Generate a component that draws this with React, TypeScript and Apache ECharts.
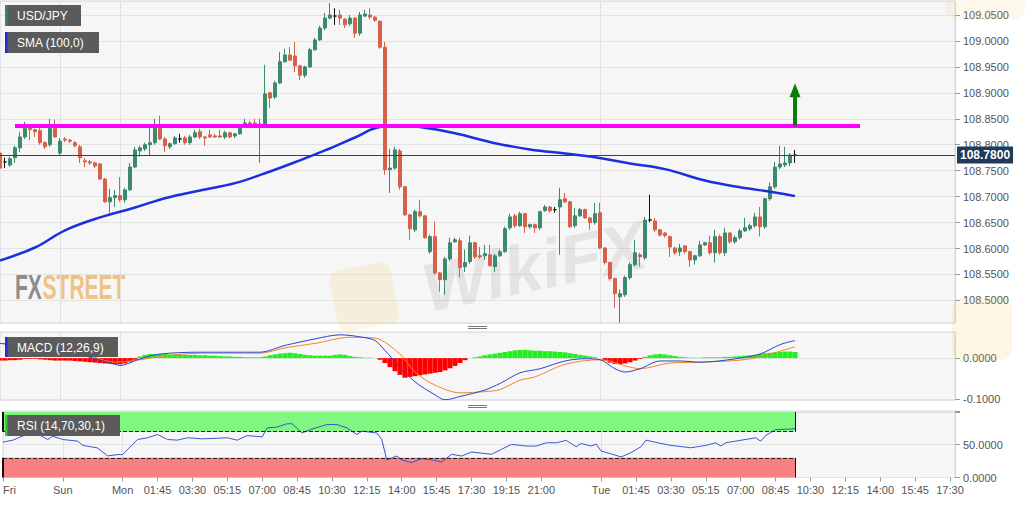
import React, { useEffect, useRef } from 'react';
import * as echarts from 'echarts';

const FONT = "'Liberation Sans', Arial, Helvetica, sans-serif";

// x axis: 15-minute slots, Fri 18:00 .. Tue 17:45 (weekend removed)
const SLOT_COUNT = 192;
const tickLabels = ['Fri', 'Sun', 'Mon', '01:45', '03:30', '05:15', '07:00', '08:45', '10:30', '12:15', '14:00', '15:45', '17:30', '19:15', '21:00', 'Tue', '01:45', '03:30', '05:15', '07:00', '08:45', '10:30', '12:15', '14:00', '15:45', '17:30'];
const tickIndex = [0, 12, 24, 31, 38, 45, 52, 59, 66, 73, 80, 87, 94, 101, 108, 120, 127, 134, 141, 148, 155, 162, 169, 176, 183, 190];
const dayBreakIndex = [12, 24, 120];

// USD/JPY 15-min candles: [open, close, low, high]
const candles = [
  [108.784, 108.755, 108.752, 108.790], [108.767, 108.767, 108.755, 108.775], [108.761, 108.773, 108.757, 108.777], [108.775, 108.794, 108.765, 108.798], [108.794, 108.815, 108.786, 108.825],
  [108.815, 108.832, 108.811, 108.844], [108.832, 108.829, 108.809, 108.836], [108.829, 108.825, 108.815, 108.831], [108.827, 108.804, 108.800, 108.832], [108.804, 108.796, 108.792, 108.807],
  [108.800, 108.832, 108.796, 108.850], [108.832, 108.815, 108.813, 108.848], [108.784, 108.807, 108.780, 108.813], [108.811, 108.809, 108.805, 108.815], [108.809, 108.807, 108.803, 108.811],
  [108.804, 108.798, 108.795, 108.807], [108.796, 108.775, 108.765, 108.800], [108.769, 108.767, 108.757, 108.775], [108.767, 108.765, 108.761, 108.771], [108.765, 108.759, 108.755, 108.767],
  [108.763, 108.734, 108.732, 108.765], [108.734, 108.690, 108.688, 108.736], [108.690, 108.698, 108.669, 108.715], [108.698, 108.702, 108.680, 108.713], [108.702, 108.694, 108.690, 108.738],
  [108.694, 108.713, 108.688, 108.717], [108.713, 108.757, 108.711, 108.765], [108.757, 108.790, 108.755, 108.796], [108.788, 108.794, 108.777, 108.798], [108.792, 108.800, 108.788, 108.804],
  [108.800, 108.804, 108.780, 108.834], [108.804, 108.832, 108.800, 108.850], [108.832, 108.811, 108.809, 108.856], [108.811, 108.798, 108.786, 108.815], [108.796, 108.802, 108.792, 108.804],
  [108.802, 108.813, 108.800, 108.817], [108.811, 108.811, 108.804, 108.821], [108.813, 108.804, 108.800, 108.817], [108.804, 108.815, 108.800, 108.819], [108.815, 108.823, 108.813, 108.829],
  [108.825, 108.815, 108.811, 108.831], [108.815, 108.813, 108.798, 108.817], [108.819, 108.815, 108.813, 108.829], [108.817, 108.815, 108.813, 108.821], [108.817, 108.815, 108.813, 108.829],
  [108.815, 108.823, 108.811, 108.827], [108.823, 108.815, 108.813, 108.825], [108.817, 108.821, 108.813, 108.823], [108.821, 108.832, 108.819, 108.834], [108.838, 108.842, 108.832, 108.850],
  [108.842, 108.838, 108.834, 108.846], [108.842, 108.838, 108.832, 108.850], [108.836, 108.840, 108.765, 108.850], [108.840, 108.898, 108.838, 108.954], [108.900, 108.890, 108.871, 108.902],
  [108.892, 108.919, 108.888, 108.923], [108.919, 108.960, 108.917, 108.979], [108.960, 108.973, 108.958, 108.985], [108.973, 108.963, 108.962, 108.988], [108.971, 108.952, 108.940, 108.998],
  [108.952, 108.934, 108.925, 108.954], [108.934, 108.950, 108.929, 108.952], [108.950, 108.983, 108.948, 108.987], [108.983, 109.002, 108.981, 109.006], [109.002, 109.025, 109.000, 109.029],
  [109.025, 109.044, 109.021, 109.054], [109.044, 109.050, 109.042, 109.073], [109.048, 109.048, 109.031, 109.063], [109.050, 109.044, 109.031, 109.060], [109.042, 109.031, 109.025, 109.044],
  [109.033, 109.044, 109.029, 109.050], [109.044, 109.015, 109.006, 109.046], [109.015, 109.050, 109.010, 109.056], [109.048, 109.052, 109.046, 109.060], [109.050, 109.046, 109.042, 109.063],
  [109.046, 109.040, 109.037, 109.048], [109.038, 108.988, 108.985, 109.040], [108.988, 108.752, 108.742, 108.998], [108.752, 108.755, 108.707, 108.792], [108.755, 108.790, 108.752, 108.796],
  [108.788, 108.719, 108.713, 108.792], [108.719, 108.665, 108.663, 108.721], [108.665, 108.638, 108.617, 108.667], [108.636, 108.671, 108.632, 108.675], [108.671, 108.663, 108.660, 108.694],
  [108.663, 108.621, 108.619, 108.665], [108.594, 108.623, 108.590, 108.627], [108.623, 108.553, 108.550, 108.652], [108.553, 108.540, 108.517, 108.555], [108.540, 108.580, 108.511, 108.584],
  [108.580, 108.611, 108.576, 108.621], [108.613, 108.617, 108.611, 108.621], [108.615, 108.563, 108.544, 108.621], [108.565, 108.573, 108.555, 108.598], [108.575, 108.611, 108.571, 108.625],
  [108.611, 108.584, 108.580, 108.613], [108.586, 108.584, 108.580, 108.603], [108.586, 108.590, 108.578, 108.607], [108.588, 108.567, 108.565, 108.607], [108.565, 108.586, 108.555, 108.590],
  [108.586, 108.594, 108.584, 108.598], [108.594, 108.638, 108.592, 108.642], [108.640, 108.661, 108.636, 108.667], [108.663, 108.644, 108.640, 108.667], [108.644, 108.667, 108.642, 108.671],
  [108.667, 108.642, 108.630, 108.669], [108.642, 108.646, 108.638, 108.648], [108.646, 108.640, 108.630, 108.648], [108.640, 108.671, 108.636, 108.673], [108.673, 108.680, 108.671, 108.684],
  [108.680, 108.673, 108.669, 108.682], [108.675, 108.675, 108.669, 108.680], [108.680, 108.694, 108.588, 108.717], [108.696, 108.690, 108.688, 108.707], [108.690, 108.642, 108.640, 108.692],
  [108.644, 108.663, 108.640, 108.678], [108.663, 108.675, 108.661, 108.678], [108.675, 108.659, 108.657, 108.677], [108.659, 108.650, 108.636, 108.661], [108.650, 108.667, 108.646, 108.688],
  [108.669, 108.601, 108.599, 108.688], [108.601, 108.573, 108.569, 108.603], [108.573, 108.542, 108.538, 108.575], [108.542, 108.513, 108.486, 108.544], [108.507, 108.513, 108.457, 108.521],
  [108.511, 108.544, 108.507, 108.548], [108.544, 108.569, 108.540, 108.573], [108.569, 108.592, 108.565, 108.617], [108.588, 108.584, 108.565, 108.592], [108.582, 108.655, 108.578, 108.661],
  [108.655, 108.655, 108.651, 108.704], [108.653, 108.636, 108.632, 108.659], [108.636, 108.626, 108.623, 108.638], [108.630, 108.625, 108.621, 108.632], [108.623, 108.603, 108.584, 108.625],
  [108.601, 108.592, 108.588, 108.603], [108.594, 108.601, 108.586, 108.609], [108.605, 108.594, 108.590, 108.607], [108.594, 108.578, 108.565, 108.596], [108.578, 108.586, 108.569, 108.588],
  [108.586, 108.607, 108.584, 108.615], [108.607, 108.611, 108.605, 108.613], [108.611, 108.592, 108.588, 108.625], [108.592, 108.623, 108.573, 108.636], [108.623, 108.592, 108.588, 108.627],
  [108.592, 108.630, 108.586, 108.640], [108.630, 108.613, 108.609, 108.632], [108.613, 108.621, 108.609, 108.625], [108.621, 108.634, 108.617, 108.638], [108.634, 108.640, 108.632, 108.659],
  [108.638, 108.644, 108.634, 108.648], [108.644, 108.661, 108.640, 108.669], [108.661, 108.642, 108.623, 108.680], [108.642, 108.696, 108.638, 108.698], [108.696, 108.719, 108.692, 108.727],
  [108.719, 108.757, 108.715, 108.767], [108.757, 108.763, 108.753, 108.798], [108.761, 108.765, 108.757, 108.796], [108.765, 108.780, 108.759, 108.784], [108.780, 108.780, 108.765, 108.790],
];

// SMA(100) read at points [slot, value]
const smaPoints = [
  [0, 108.577], [7, 108.602], [13, 108.635], [20, 108.660], [27, 108.679], [33, 108.697], [40, 108.712], [47, 108.726], [53, 108.745],
  [60, 108.770], [65, 108.789], [71, 108.814], [76, 108.834], [80, 108.836], [84, 108.834], [91, 108.822], [99, 108.803], [106, 108.791],
  [113, 108.783], [119, 108.776], [126, 108.764], [133, 108.753], [141, 108.731], [148, 108.718], [155, 108.708], [159, 108.701],
];

const resistanceLevel = 108.837;
const resistanceStart = 3;
const resistanceEnd = 172;
const currentPrice = 108.78;
const arrowTop = 108.905;
const arrowSlot = 159;

// MACD (12,26,9)
const macdPoints = [
  [0, 0.036], [8, 0.025], [16, 0.008], [23, -0.015], [24, -0.018], [28, -0.002], [32, 0.010], [40, 0.0145], [52, 0.0145], [57, 0.031],
  [63, 0.047], [68, 0.057], [72, 0.052], [75, 0.043], [77, 0.0185], [80, -0.022], [83, -0.058], [87, -0.090], [89, -0.102], [92, -0.094],
  [97, -0.078], [100, -0.062], [104, -0.036], [108, -0.026], [113, -0.007], [117, -0.0015], [120, -0.004], [123, -0.026], [125, -0.034],
  [128, -0.026], [132, -0.007], [136, -0.007], [140, -0.010], [147, -0.002], [152, 0.010], [156, 0.033], [159, 0.043],
];
const signalPoints = [
  [0, 0.036], [8, 0.028], [16, 0.014], [23, -0.010], [28, -0.004], [32, 0.004], [40, 0.012], [52, 0.012], [57, 0.025], [63, 0.036],
  [70, 0.051], [75, 0.049], [80, 0.010], [83, -0.034], [87, -0.066], [92, -0.085], [97, -0.082], [100, -0.077], [104, -0.054], [107, -0.046],
  [113, -0.015], [120, -0.004], [126, -0.022], [128, -0.026], [134, -0.012], [140, -0.010], [150, -0.002], [159, 0.028],
];
const macdHist = [
  -0.006, -0.006, -0.005, -0.005, -0.004, -0.002, -0.002, -0.002, -0.003, -0.004, -0.005, -0.006, -0.006, -0.006, -0.006, -0.007, -0.008,
  -0.009, -0.010, -0.011, -0.012, -0.013, -0.014, -0.015, -0.015, -0.013, -0.009, -0.004,
  0.004, 0.008, 0.010, 0.010, 0.010, 0.010, 0.009, 0.009, 0.009, 0.008, 0.008, 0.008, 0.007, 0.007, 0.006, 0.006,
  0.005, 0.004, 0.004, 0.003, 0.003, 0.002, 0.002, 0.002, 0.002,
  0.004, 0.007, 0.009, 0.011, 0.012, 0.013, 0.012, 0.010, 0.008, 0.007, 0.006, 0.006, 0.006, 0.006, 0.008, 0.009, 0.008,
  0.005, 0.003, 0.002, 0.001, 0.001, 0.000,
  -0.004, -0.012, -0.022, -0.032, -0.041, -0.048, -0.046, -0.044, -0.042, -0.040, -0.038, -0.036, -0.034, -0.030, -0.025, -0.019, -0.012, -0.005,
  0.000, 0.002, 0.004, 0.007, 0.009, 0.011, 0.013, 0.015, 0.017, 0.019, 0.020,
  0.020, 0.019, 0.018, 0.018, 0.017, 0.017, 0.016, 0.015, 0.014, 0.012, 0.010, 0.008, 0.006, 0.004, 0.002, 0.000,
  -0.006, -0.011, -0.014, -0.015, -0.013, -0.010, -0.006, -0.002,
  0.003, 0.007, 0.009, 0.010, 0.009, 0.007, 0.005, 0.003, 0.002, 0.001,
  0.001, 0.001, 0.002, 0.002, 0.002, 0.002, 0.003, 0.003, 0.004, 0.005, 0.006, 0.007, 0.008, 0.010,
  0.012, 0.013, 0.014, 0.015, 0.016, 0.016, 0.015,
];

// RSI (14,70,30,1)
const rsiPoints = [
  [0, 54], [2, 57], [5, 66.7], [7, 66], [9, 58], [10, 63], [12, 58], [15, 55.5], [16, 49], [19, 45], [21, 33], [23, 35], [24, 35], [27, 58],
  [29, 60.6], [31, 65.6], [33, 58], [35, 57], [37, 60.6], [40, 59], [45, 60.6], [47, 57], [49, 64], [52, 62], [53, 75.7], [55, 77], [57, 82],
  [58, 82], [60, 68], [62, 74], [65, 80.8], [67, 80.8], [69, 75.7], [71, 65.6], [72, 70.7], [75, 68], [76, 58], [77, 26.8], [79, 32.8],
  [80, 26.8], [82, 22.7], [84, 28.8], [86, 26.8], [88, 23.7], [90, 35.4], [92, 32.8], [94, 38.9], [98, 35.4], [100, 43], [102, 50.5],
  [104, 49], [105, 48], [107, 48], [109, 53], [111, 53], [113, 56.6], [115, 47], [116, 52], [118, 48], [119, 51], [120, 40.4], [123, 33.8],
  [124, 31.3], [126, 38], [128, 47], [129, 57], [132, 52], [134, 49], [138, 45.4], [141, 49], [143, 53], [144, 48], [145, 53], [147, 55.5],
  [151, 60.6], [152, 55.5], [153, 64], [155, 73], [158, 74], [159, 74.5],
];
const rsiUpper = 70;
const rsiLower = 30;

const mainRange = [108.4565, 109.077];
const macdRange = [-0.1025, 0.0639];
const rsiRange = [0, 101.5];

const categories = Array.from({ length: SLOT_COUNT }, (_, i) => String(i));
const labelAt = new Map<number, string>();
tickIndex.forEach((t, k) => labelAt.set(t, tickLabels[k]));

const isMult = (v: number, step: number) => Math.abs(v / step - Math.round(v / step)) < 1e-6;

function legendBox(x: number, y: number, w: number, h: number, stripe: string, text: string) {
  return {
    type: 'group',
    children: [
      { type: 'rect', shape: { x, y, width: w, height: h }, style: { fill: '#5b5b5b' }, z: 100 },
      { type: 'rect', shape: { x, y, width: 2.5, height: h }, style: { fill: stripe }, z: 101 },
      {
        type: 'text', x: x + 12, y: y + h / 2 + 0.5, z: 101,
        style: { text, fill: '#ffffff', font: `12px ${FONT}`, textVerticalAlign: 'middle', verticalAlign: 'middle' },
      },
    ],
  };
}

export default function App() {
  const ref = useRef<HTMLDivElement>(null);

  useEffect(() => {
    const chart = echarts.init(ref.current!, null, { renderer: 'svg' });
    const gridStyle = { show: true, backgroundColor: '#f6f6f6', borderColor: '#d2d6dd', borderWidth: 1 };

    const xAxis = (gi: number, showLabels: boolean) => ({
      type: 'category',
      gridIndex: gi,
      data: categories,
      boundaryGap: false,
      axisLine: { show: false },
      axisTick: showLabels
        ? { show: true, interval: (i: number) => labelAt.has(i), length: 4, lineStyle: { color: '#999' } }
        : { show: false },
      axisLabel: showLabels
        ? {
            show: true,
            interval: (i: number) => labelAt.has(i),
            formatter: (v: string) => labelAt.get(Number(v)) ?? '',
            color: '#555',
            fontSize: 11,
            fontFamily: FONT,
            margin: 7,
            alignMinLabel: 'left',
          }
        : { show: false },
      splitLine: { show: true, interval: (i: number) => dayBreakIndex.includes(i), lineStyle: { color: '#e0e0e0' } },
    });

    const yAxis = (gi: number, range: number[], step: number, extra: any = {}) => ({
      type: 'value',
      gridIndex: gi,
      position: 'right',
      min: range[0],
      max: range[1],
      minInterval: step,
      maxInterval: step,
      splitNumber: Math.round((range[1] - range[0]) / step),
      axisLine: { show: true, lineStyle: { color: '#d2d6dd' } },
      axisTick: { show: true, length: 5, lineStyle: { color: '#999' } },
      axisLabel: {
        color: '#555', fontSize: 11, fontFamily: FONT, margin: 8,
        showMinLabel: false, showMaxLabel: false,
        formatter: (v: number) => (isMult(v, step) ? v.toFixed(4) : ''),
      },
      splitLine: { show: true, lineStyle: { color: '#e3e3e3' } },
      ...extra,
    });

    const option: any = {
      animation: false,
      backgroundColor: '#ffffff',
      textStyle: { fontFamily: FONT },
      grid: [
        { left: 0, top: 1, width: 955, height: 322, ...gridStyle },
        { left: 0, top: 332, width: 955, height: 68, ...gridStyle },
        { left: 0, top: 411, width: 955, height: 66.5, ...gridStyle },
      ],
      xAxis: [xAxis(0, false), xAxis(1, false), xAxis(2, true)],
      yAxis: [
        yAxis(0, mainRange, 0.05),
        yAxis(1, macdRange, 0.1),
        {
          ...yAxis(2, rsiRange, 50),
          minInterval: undefined, maxInterval: undefined, splitNumber: undefined,
          interval: 50,
          axisLabel: {
            color: '#555', fontSize: 11, fontFamily: FONT, margin: 8,
            formatter: (v: number) => (v === 0 || v === 50 ? v.toFixed(4) : ''),
          },
        },
      ],
      series: [
        {
          type: 'candlestick',
          name: 'USD/JPY',
          xAxisIndex: 0,
          yAxisIndex: 0,
          data: candles,
          barWidth: 4,
          itemStyle: {
            color: '#3a8a6b', color0: '#d6604a',
            borderColor: '#3a8a6b', borderColor0: '#d6604a',
            borderColorDoji: '#111111', borderWidth: 1,
          },
          markLine: {
            silent: true,
            symbol: ['none', 'none'],
            data: [
              {
                yAxis: currentPrice,
                lineStyle: { color: '#2a4262', width: 1, type: 'solid' },
                label: {
                  show: true, position: 'end', distance: 2,
                  formatter: currentPrice.toFixed(4),
                  color: '#ffffff', fontWeight: 'bold', fontSize: 12, fontFamily: FONT,
                  backgroundColor: '#1f3a5b', padding: [3, 3, 2, 3],
                },
              },
              [
                { coord: [resistanceStart, resistanceLevel], symbol: 'none' },
                { coord: [resistanceEnd, resistanceLevel], symbol: 'none',
                  lineStyle: { color: '#ff00ff', width: 4, type: 'solid' }, label: { show: false } },
              ],
              [
                { coord: [arrowSlot, resistanceLevel - 0.001], symbol: 'none' },
                { coord: [arrowSlot, arrowTop], symbol: 'triangle', symbolSize: [11, 14],
                  lineStyle: { color: '#0b7d0b', width: 4, type: 'solid' }, itemStyle: { color: '#0b7d0b' }, label: { show: false } },
              ],
            ],
          },
        },
        {
          type: 'line',
          name: 'SMA (100,0)',
          xAxisIndex: 0,
          yAxisIndex: 0,
          data: smaPoints,
          smooth: 0.4,
          showSymbol: false,
          lineStyle: { color: '#1b30dc', width: 2.5 },
          z: 3,
        },
        {
          type: 'bar',
          name: 'MACD hist',
          xAxisIndex: 1,
          yAxisIndex: 1,
          data: macdHist,
          barWidth: 5,
          itemStyle: { color: (p: any) => (p.value >= 0 ? '#22ee22' : '#ff0000') },
        },
        {
          type: 'line', name: 'MACD', xAxisIndex: 1, yAxisIndex: 1, data: macdPoints,
          smooth: 0.3, showSymbol: false, lineStyle: { color: '#2a45d0', width: 1 }, z: 4,
        },
        {
          type: 'line', name: 'Signal', xAxisIndex: 1, yAxisIndex: 1, data: signalPoints,
          smooth: 0.3, showSymbol: false, lineStyle: { color: '#f0852a', width: 1 }, z: 3,
        },
        {
          type: 'line', name: 'RSI', xAxisIndex: 2, yAxisIndex: 2, data: rsiPoints,
          showSymbol: false, lineStyle: { color: '#3a56cc', width: 1 }, z: 4,
          markArea: {
            silent: true,
            data: [
              [{ xAxis: 0, yAxis: rsiUpper, itemStyle: { color: '#80f780' } }, { xAxis: 159, yAxis: 100 }],
              [{ xAxis: 0, yAxis: 0, itemStyle: { color: '#f78080' } }, { xAxis: 159, yAxis: rsiLower }],
            ],
          },
          markLine: {
            silent: true,
            symbol: ['none', 'none'],
            label: { show: false },
            data: [
              [{ coord: [0, rsiUpper] }, { coord: [159, rsiUpper], lineStyle: { color: '#222', width: 1, type: 'dashed' } }],
              [{ coord: [0, rsiLower] }, { coord: [159, rsiLower], lineStyle: { color: '#222', width: 1, type: 'dashed' } }],
              [{ coord: [159, rsiUpper] }, { coord: [159, 100], lineStyle: { color: '#111', width: 1, type: 'solid' } }],
              [{ coord: [159, 0] }, { coord: [159, rsiLower], lineStyle: { color: '#111', width: 1, type: 'solid' } }],
              [{ coord: [0, 0] }, { coord: [0, rsiLower], lineStyle: { color: '#111', width: 2, type: 'solid' } }],
              [{ coord: [0, rsiUpper] }, { coord: [0, 100], lineStyle: { color: '#111', width: 2, type: 'solid' } }],
            ],
          },
        },
      ],
      graphic: [
        // watermarks
        { type: 'rect', shape: { x: 333, y: 266, width: 62, height: 62, r: 10 }, rotation: 0.2, originX: 364, originY: 297,
          style: { fill: 'rgba(240,200,90,0.16)' }, z: 1, silent: true },
        { type: 'rect', shape: { x: 952, y: 298, width: 60, height: 62, r: 10 }, style: { fill: 'rgba(240,200,90,0.16)' }, z: 1, silent: true },
        { type: 'rect', shape: { x: 945, y: -20, width: 80, height: 40, r: 12 }, style: { fill: 'rgba(240,200,90,0.12)' }, z: 1, silent: true },
        { type: 'text', x: 430, y: 322, rotation: 0.2, z: 1, silent: true,
          style: { text: 'WikiFX', fill: 'rgba(110,110,110,0.13)', font: `italic bold 68px ${FONT}`, textVerticalAlign: 'bottom', verticalAlign: 'bottom' } },
        {
          type: 'group', x: 15, y: 304, scaleX: 0.6, z: 2, silent: true,
          children: [
            { type: 'text', x: 0, y: 0, style: { text: 'FX', fill: '#8d8d8d', font: `bold 35px ${FONT}`, textVerticalAlign: 'bottom', verticalAlign: 'bottom' } },
            { type: 'text', x: 46, y: 0, style: { text: 'STREET', fill: '#efc285', font: `bold 35px ${FONT}`, textVerticalAlign: 'bottom', verticalAlign: 'bottom' } },
          ],
        },
        // panel drag handles
        { type: 'line', shape: { x1: 468, y1: 326.5, x2: 487, y2: 326.5 }, style: { stroke: '#777', lineWidth: 1 } },
        { type: 'line', shape: { x1: 468, y1: 328.5, x2: 487, y2: 328.5 }, style: { stroke: '#777', lineWidth: 1 } },
        { type: 'line', shape: { x1: 468, y1: 405.5, x2: 487, y2: 405.5 }, style: { stroke: '#777', lineWidth: 1 } },
        { type: 'line', shape: { x1: 468, y1: 407.5, x2: 487, y2: 407.5 }, style: { stroke: '#777', lineWidth: 1 } },
        // legends
        legendBox(5, 5, 76, 21, '#2f8a6c', 'USD/JPY'),
        legendBox(5, 32, 94, 21, '#1b30dc', 'SMA (100,0)'),
        legendBox(5, 337, 113, 20, '#1b30dc', 'MACD (12,26,9)'),
        legendBox(5, 415, 115, 21, '#3cc43c', 'RSI (14,70,30,1)'),
      ],
    };

    chart.setOption(option);
    return () => chart.dispose();
  }, []);

  return (
    <div
      ref={ref}
      style={{ position: 'absolute', left: 0, top: 0, width: 1032, height: 505, background: '#ffffff' }}
    />
  );
}
